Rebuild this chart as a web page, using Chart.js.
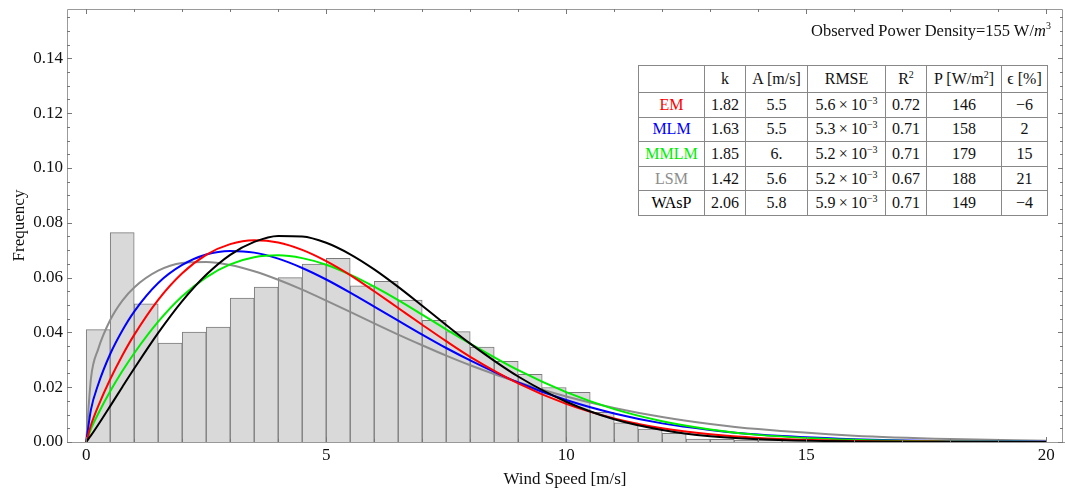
<!DOCTYPE html>
<html>
<head>
<meta charset="utf-8">
<script src="https://cdn.jsdelivr.net/npm/chart.js@4/dist/chart.umd.min.js"></script>
<style>
  body { margin: 0; background: #fff; }
  #wrap { position: relative; width: 1065px; height: 495px; font-family: "Liberation Serif", serif; }
  #note { position: absolute; left: 811px; top: 20px; font-size: 16.5px; color: #111; white-space: nowrap; }
  #note sup { font-size: 10px; }
  #fits { position: absolute; left: 638px; top: 65px; border-collapse: collapse; background: #fff;
          font-size: 16px; color: #111; }
  #fits td { border: 1px solid #888; text-align: center; padding: 0; height: 23.6px; }
  #fits tr:first-child td { height: 26px; }
  #fits sup { font-size: 10px; line-height: 0; }
</style>
</head>
<body>
<div id="wrap">
  <canvas id="chart" width="1065" height="495"></canvas>
  <div id="note">Observed Power Density=155 W/<i>m</i><sup>3</sup></div>
  <table id="fits"></table>
</div>
<script>
// histogram: bin centres (m/s) and observed frequency per 0.5 m/s bin
const binCentres = [0.25, 0.75, 1.25, 1.75, 2.25, 2.75, 3.25, 3.75, 4.25, 4.75, 5.25, 5.75,
  6.25, 6.75, 7.25, 7.75, 8.25, 8.75, 9.25, 9.75, 10.25, 10.75, 11.25, 11.75, 12.25, 12.75,
  13.25, 13.75, 14.25, 14.75, 15.25, 15.75, 16.25, 16.75];
const observed = [0.0410, 0.0764, 0.0504, 0.0361, 0.0401, 0.0419, 0.0525, 0.0565, 0.0600, 0.0649,
  0.0670, 0.0570, 0.0586, 0.0518, 0.0444, 0.0403, 0.0346, 0.0294, 0.0247, 0.0199, 0.0181, 0.0108,
  0.0070, 0.0047, 0.0032, 0.0011, 0.0010, 0.0007, 0.0005, 0.0004, 0.0003, 0.0002, 0.0002, 0.0001];

// fitted curves, read at these speeds
const curveSpeeds = [0, 0.1, 0.25, 0.5, 0.75, 1, 1.5, 2, 2.5, 3, 3.5, 4, 4.5, 5, 5.5, 6, 6.5, 7,
  7.5, 8, 9, 10, 11, 12, 13, 14, 16, 18, 20];
const emFit = [0, 0.0062, 0.0131, 0.0229, 0.0315, 0.0391, 0.0519, 0.0616, 0.0683, 0.0722, 0.0736,
  0.0728, 0.0701, 0.0660, 0.0609, 0.0550, 0.0489, 0.0428, 0.0368, 0.0311, 0.0214, 0.0139, 0.0086,
  0.0050, 0.0028, 0.0015, 0.0004, 0.0001, 0.0000];
const mlmFit = [0, 0.0119, 0.0210, 0.0321, 0.0406, 0.0476, 0.0580, 0.0646, 0.0684, 0.0697, 0.0691,
  0.0669, 0.0635, 0.0593, 0.0545, 0.0494, 0.0443, 0.0392, 0.0343, 0.0298, 0.0217, 0.0153, 0.0104,
  0.0068, 0.0044, 0.0027, 0.0010, 0.0003, 0.0001];
const mmlmFit = [0, 0.0048, 0.0103, 0.0185, 0.0258, 0.0324, 0.0439, 0.0532, 0.0601, 0.0648, 0.0674,
  0.0681, 0.0671, 0.0647, 0.0611, 0.0567, 0.0518, 0.0465, 0.0411, 0.0359, 0.0262, 0.0182, 0.0120,
  0.0076, 0.0046, 0.0026, 0.0008, 0.0002, 0.0000];
const lsmFit = [0, 0.0233, 0.0339, 0.0445, 0.0515, 0.0564, 0.0625, 0.0653, 0.0657, 0.0646, 0.0623,
  0.0592, 0.0556, 0.0516, 0.0475, 0.0433, 0.0392, 0.0353, 0.0315, 0.0280, 0.0218, 0.0166, 0.0124,
  0.0091, 0.0066, 0.0047, 0.0023, 0.0011, 0.0005];
const waspFit = [0, 0.0024, 0.0063, 0.0131, 0.0200, 0.0268, 0.0398, 0.0514, 0.0610, 0.0683, 0.0730,
  0.0752, 0.0750, 0.0727, 0.0685, 0.0630, 0.0566, 0.0497, 0.0427, 0.0359, 0.0239, 0.0147, 0.0083,
  0.0044, 0.0021, 0.0010, 0.0002, 0.0000, 0.0000];

// table values
const methods = ["EM", "MLM", "MMLM", "LSM", "WAsP"];
const methodColors = ["#ff0000", "#0000ff", "#00ee00", "#8c8c8c", "#000000"];
const kVals = ["1.82", "1.63", "1.85", "1.42", "2.06"];
const aVals = ["5.5", "5.5", "6.", "5.6", "5.8"];
const rmseVals = ["5.6", "5.3", "5.2", "5.2", "5.9"];
const r2Vals = ["0.72", "0.71", "0.71", "0.67", "0.71"];
const powerVals = ["146", "158", "179", "188", "149"];
const errVals = ["\u22126", "2", "15", "21", "\u22124"];

const colWidths = [66, 41, 62, 78, 41, 75, 46];
let html = "<tr>" + ["", "k", "A [m/s]", "RMSE", "R<sup>2</sup>", "P [W/m<sup>2</sup>]", "\u03f5 [%]"]
  .map((h, i) => `<td style="width:${colWidths[i] - 1}px">${h}</td>`).join("") + "</tr>";
methods.forEach((m, i) => {
  html += `<tr>
    <td style="color:${methodColors[i]}">${m}</td>
    <td>${kVals[i]}</td>
    <td>${aVals[i]}</td>
    <td>${rmseVals[i]}\u2009\u00d7\u200910<sup>\u22123</sup></td>
    <td>${r2Vals[i]}</td>
    <td>${powerVals[i]}</td>
    <td>${errVals[i]}</td>
  </tr>`;
});
document.getElementById("fits").innerHTML = html;

const pts = (xs, ys) => xs.map((v, i) => ({ x: v, y: ys[i] }));

// frame with inward ticks, drawn from the scales
const frameTicks = {
  id: "frameTicks",
  afterDraw(chart) {
    const { ctx, chartArea: a, scales: { x, y } } = chart;
    ctx.save();
    ctx.strokeStyle = "#9a9a9a";
    ctx.lineWidth = 1;
    ctx.beginPath();
    ctx.moveTo(a.left + 0.5, a.bottom + 0.5);
    ctx.lineTo(a.left + 0.5, a.top + 0.5);
    ctx.lineTo(a.right - 0.5, a.top + 0.5);
    ctx.lineTo(a.right - 0.5, a.bottom);
    ctx.stroke();
    ctx.beginPath();
    ctx.moveTo(a.left, a.bottom + 0.5);
    ctx.lineTo(1065, a.bottom + 0.5);
    ctx.stroke();

    ctx.strokeStyle = "#777";
    ctx.beginPath();
    for (let v = 0; v <= 20; v++) {
      const px = Math.round(x.getPixelForValue(v)) + 0.5;
      const len = v % 5 === 0 ? 5 : 3;
      ctx.moveTo(px, a.bottom); ctx.lineTo(px, a.bottom - len);
      ctx.moveTo(px, a.top); ctx.lineTo(px, a.top + len);
    }
    for (let i = 0; i <= 31; i++) {
      const py = Math.round(y.getPixelForValue(i * 0.005)) + 0.5;
      const len = i % 4 === 0 ? 5 : 3;
      ctx.moveTo(a.left, py); ctx.lineTo(a.left + len, py);
      ctx.moveTo(a.right, py); ctx.lineTo(a.right - len, py);
    }
    ctx.stroke();
    ctx.restore();
  }
};

const curve = (label, data, color, order) => ({
  type: "line",
  label,
  data: pts(curveSpeeds, data),
  borderColor: color,
  borderWidth: 2,
  pointRadius: 0,
  fill: false,
  cubicInterpolationMode: "monotone",
  order
});

const serif = "'Liberation Serif', 'Times New Roman', serif";

new Chart(document.getElementById("chart"), {
  type: "bar",
  data: {
    datasets: [
      {
        label: "Observed",
        data: pts(binCentres, observed),
        backgroundColor: "#d9d9d9",
        borderColor: "#7a7a7a",
        borderWidth: 1,
        barPercentage: 1,
        categoryPercentage: 1,
        order: 10
      },
      curve("LSM", lsmFit, "#8c8c8c", 5),
      curve("MLM", mlmFit, "#0000ff", 4),
      curve("MMLM", mmlmFit, "#00ee00", 3),
      curve("EM", emFit, "#ff0000", 2),
      curve("WAsP", waspFit, "#000000", 1)
    ]
  },
  options: {
    responsive: false,
    devicePixelRatio: 1,
    animation: false,
    layout: { padding: { top: 9, right: 2, left: 0, bottom: 0 } },
    plugins: { legend: { display: false }, tooltip: { enabled: false } },
    scales: {
      x: {
        type: "linear",
        min: -0.4,
        max: 20.35,
        offset: false,
        grid: { display: false, offset: false, drawTicks: false },
        border: { display: false },
        ticks: {
          stepSize: 5,
          includeBounds: false,
          autoSkip: false,
          maxRotation: 0,
          padding: 3,
          color: "#111",
          font: { family: serif, size: 17 }
        },
        title: {
          display: true,
          text: "Wind Speed [m/s]",
          color: "#111",
          font: { family: serif, size: 17 },
          padding: { top: 0, bottom: 5 }
        },
        afterFit(s) { s.height = 53; s.paddingLeft = 0; s.paddingRight = 0; }
      },
      y: {
        min: 0,
        max: 0.158,
        grid: { display: false, drawTicks: false },
        border: { display: false },
        ticks: {
          stepSize: 0.02,
          includeBounds: false,
          padding: 4,
          color: "#111",
          font: { family: serif, size: 17 },
          callback: v => v.toFixed(2)
        },
        title: {
          display: true,
          text: "Frequency",
          color: "#111",
          font: { family: serif, size: 17 },
          padding: { top: 9, bottom: 0 }
        },
        afterFit(s) { s.width = 67; s.paddingTop = 0; s.paddingBottom = 0; }
      }
    }
  },
  plugins: [frameTicks]
});
</script>
</body>
</html>
